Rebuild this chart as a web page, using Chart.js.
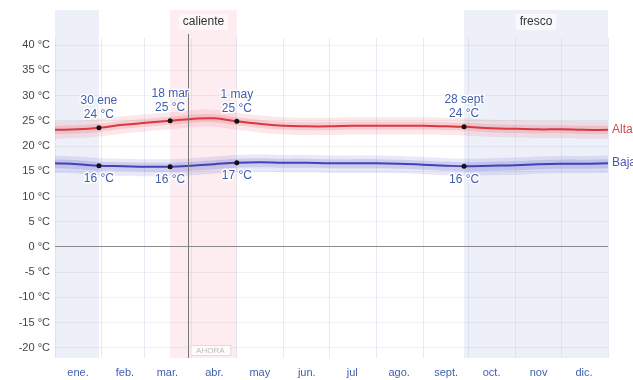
<!DOCTYPE html>
<html>
<head>
<meta charset="utf-8">
<script src="https://cdn.jsdelivr.net/npm/chart.js@4"></script>
<style>
  html, body { margin: 0; padding: 0; background: #fff; }
  #wrap { width: 633px; height: 380px; }
</style>
</head>
<body>
<div id="wrap"><canvas id="chart" width="633" height="380"></canvas></div>
<script>
// day of year (0 = 1 ene)
const days = [0,15,29,45,60,76,90,105,120,135,151,166,181,196,212,227,243,258,270,288,304,319,334,349,365];

// average daily high / low, with 25-75 and 10-90 bands
const high      = [23.2,23.3,23.6,24.2,24.6,25.0,25.35,25.5,24.9,24.4,24.0,23.9,23.9,24.0,24.0,24.0,24.0,23.9,23.8,23.5,23.4,23.3,23.3,23.2,23.2];
const highOutTop= [24.9,25.0,25.3,25.9,26.3,26.7,27.1,27.2,26.6,26.1,25.7,25.6,25.6,25.7,25.7,25.7,25.7,25.6,25.5,25.2,25.1,25.0,25.0,24.9,24.9];
const highOutBot= [21.5,21.6,21.9,22.5,22.9,23.3,23.7,23.8,23.2,22.7,22.3,22.2,22.2,22.3,22.3,22.3,22.3,22.2,22.1,21.8,21.7,21.6,21.6,21.5,21.5];
const highInTop = [24.0,24.1,24.4,25.0,25.4,25.8,26.2,26.3,25.7,25.2,24.8,24.7,24.7,24.8,24.8,24.8,24.8,24.7,24.6,24.3,24.2,24.1,24.1,24.0,24.0];
const highInBot = [22.4,22.5,22.8,23.4,23.8,24.2,24.6,24.7,24.1,23.6,23.2,23.1,23.1,23.2,23.2,23.2,23.2,23.1,23.0,22.7,22.6,22.5,22.5,22.4,22.4];

const low       = [16.6,16.4,16.1,16.0,15.9,15.9,16.1,16.4,16.7,16.8,16.7,16.7,16.6,16.6,16.6,16.5,16.3,16.1,16.0,16.1,16.2,16.4,16.5,16.5,16.6];
const lowOutTop = [18.1,17.9,17.6,17.5,17.4,17.4,17.6,17.9,18.2,18.3,18.2,18.2,18.1,18.1,18.1,18.0,17.8,17.6,17.5,17.6,17.7,17.9,18.0,18.0,18.1];
const lowOutBot = [14.7,14.5,14.2,14.1,14.0,14.0,14.2,14.5,14.8,14.9,14.8,14.8,14.7,14.7,14.7,14.6,14.4,14.2,14.1,14.2,14.3,14.5,14.6,14.6,14.7];
const lowInTop  = [17.4,17.2,16.9,16.8,16.7,16.7,16.9,17.2,17.5,17.6,17.5,17.5,17.4,17.4,17.4,17.3,17.1,16.9,16.8,16.9,17.0,17.2,17.3,17.3,17.4];
const lowInBot  = [15.6,15.4,15.1,15.0,14.9,14.9,15.1,15.4,15.7,15.8,15.7,15.7,15.6,15.6,15.6,15.5,15.3,15.1,15.0,15.1,15.2,15.4,15.5,15.5,15.6];

// marked season boundaries
const markDays  = [29, 76, 120, 270];
const markDates = ["30 ene", "18 mar", "1 may", "28 sept"];
const markHigh  = [23.6, 25.0, 24.9, 23.8];
const markLow   = [16.1, 15.9, 16.7, 16.0];

// seasons
const seasons = [
  { name: "caliente", from: 76, to: 120, color: "#fdedf0", label: true },
  { name: "fresco", from: 270, to: 365, color: "#eef0f9", label: true },
  { name: "fresco", from: 0, to: 29, color: "#eef0f9", label: false }
];
const nowDay = 88;

// axes
const monthStarts = [0,31,59,90,120,151,181,212,243,273,304,334,365];
const monthNames  = ["ene.","feb.","mar.","abr.","may","jun.","jul","ago.","sept.","oct.","nov","dic."];
const yTicks = [-20,-15,-10,-5,0,5,10,15,20,25,30,35,40];

const pts = arr => days.map((d, i) => ({ x: d, y: arr[i] }));

function band(arr, color, fill) {
  return { data: pts(arr), borderWidth: 0, pointRadius: 0, backgroundColor: color, fill: fill, tension: 0.4, order: 3 };
}

const seasonPlugin = {
  id: "seasons",
  beforeDraw(chart) {
    const { ctx, chartArea, scales } = chart;
    ctx.save();
    seasons.forEach(s => {
      const x1 = scales.x.getPixelForValue(s.from);
      const x2 = scales.x.getPixelForValue(s.to);
      ctx.fillStyle = s.color;
      ctx.fillRect(x1, 10, x2 - x1, chartArea.bottom - 10);
    });
    ctx.restore();
  },
  afterDatasetsDraw(chart) {
    const { ctx, chartArea, scales } = chart;
    const x = scales.x, y = scales.y;
    ctx.save();

    // season names
    ctx.font = "12px 'Liberation Sans', Arial, sans-serif";
    ctx.textAlign = "center";
    ctx.textBaseline = "middle";
    seasons.filter(s => s.label).forEach(s => {
      const cx = x.getPixelForValue((s.from + s.to) / 2);
      const w = ctx.measureText(s.name).width + 8;
      ctx.fillStyle = "rgba(255,255,255,0.6)";
      ctx.fillRect(cx - w / 2, 14, w, 16);
      ctx.fillStyle = "#333";
      ctx.fillText(s.name, cx, 22);
    });

    // now line
    const nx = x.getPixelForValue(nowDay);
    ctx.strokeStyle = "#777";
    ctx.lineWidth = 1;
    ctx.beginPath();
    ctx.moveTo(Math.round(nx) + 0.5, 34);
    ctx.lineTo(Math.round(nx) + 0.5, chartArea.bottom);
    ctx.stroke();
    ctx.fillStyle = "rgba(255,255,255,0.8)";
    ctx.fillRect(nx + 2, chartArea.bottom - 13, 40, 11);
    ctx.strokeStyle = "#ddd";
    ctx.strokeRect(nx + 2.5, chartArea.bottom - 12.5, 40, 10);
    ctx.fillStyle = "#bbb";
    ctx.font = "8px 'Liberation Sans', Arial, sans-serif";
    ctx.fillText("AHORA", nx + 22, chartArea.bottom - 7);

    // marker labels
    ctx.font = "12px 'Liberation Sans', Arial, sans-serif";
    ctx.lineJoin = "round";
    const txt = (t, px, py) => {
      ctx.strokeStyle = "rgba(255,255,255,0.9)";
      ctx.lineWidth = 3;
      ctx.strokeText(t, px, py);
      ctx.fillStyle = "#3f5fae";
      ctx.fillText(t, px, py);
    };
    markDays.forEach((d, i) => {
      const px = x.getPixelForValue(d);
      const hy = y.getPixelForValue(markHigh[i]);
      const ly = y.getPixelForValue(markLow[i]);
      txt(markDates[i], px, hy - 27);
      txt(Math.round(markHigh[i]) + " °C", px, hy - 13);
      txt(Math.round(markLow[i]) + " °C", px, ly + 13);
    });

    // series names at right edge
    ctx.textAlign = "left";
    ctx.fillStyle = "#d8454b";
    ctx.fillText("Alta", chartArea.right + 4, y.getPixelForValue(high[high.length - 1]));
    ctx.fillStyle = "#4d55b8";
    ctx.fillText("Baja", chartArea.right + 4, y.getPixelForValue(low[low.length - 1]));
    ctx.restore();
  }
};

new Chart(document.getElementById("chart"), {
  type: "line",
  data: {
    datasets: [
      band(highOutTop, "rgba(232,90,105,0.14)", "+1"),
      band(highOutBot, "transparent", false),
      band(highInTop, "rgba(232,90,105,0.2)", "+1"),
      band(highInBot, "transparent", false),
      band(lowOutTop, "rgba(95,95,205,0.14)", "+1"),
      band(lowOutBot, "transparent", false),
      band(lowInTop, "rgba(95,95,205,0.2)", "+1"),
      band(lowInBot, "transparent", false),
      { data: pts(high), borderColor: "#d8383f", borderWidth: 2, pointRadius: 0, fill: false, tension: 0.4, order: 2 },
      { data: pts(low), borderColor: "#3f43b3", borderWidth: 2, pointRadius: 0, fill: false, tension: 0.4, order: 2 },
      { data: markDays.map((d, i) => ({ x: d, y: markHigh[i] })), showLine: false, pointRadius: 2.5, pointBackgroundColor: "#111", pointBorderWidth: 0, order: 1 },
      { data: markDays.map((d, i) => ({ x: d, y: markLow[i] })), showLine: false, pointRadius: 2.5, pointBackgroundColor: "#111", pointBorderWidth: 0, order: 1 }
    ]
  },
  options: {
    responsive: false,
    animation: false,
    layout: { padding: { top: 38, right: 25, left: 0, bottom: 0 } },
    plugins: { legend: { display: false }, tooltip: { enabled: false } },
    scales: {
      x: {
        type: "linear",
        min: 0,
        max: 365,
        afterBuildTicks: s => { s.ticks = monthStarts.map(v => ({ value: v })); },
        afterFit: s => { s.height = 22; },
        border: { display: false },
        grid: { color: "rgba(200,210,235,0.45)", drawTicks: false },
        ticks: {
          padding: 8,
          labelOffset: 23,
          color: "#3f5fae",
          font: { size: 11, family: "'Liberation Sans', Arial, sans-serif" },
          callback: v => monthNames[monthStarts.indexOf(v)] || ""
        }
      },
      y: {
        min: -22,
        max: 41.4,
        afterBuildTicks: s => { s.ticks = yTicks.map(v => ({ value: v })); },
        afterFit: s => { s.width = 55; },
        border: { display: false },
        grid: {
          drawTicks: false,
          color: c => c.tick && c.tick.value === 0 ? "#8a8a8a" : "rgba(0,0,0,0.05)"
        },
        ticks: {
          padding: 5,
          color: "#444",
          font: { size: 11, family: "'Liberation Sans', Arial, sans-serif" },
          callback: v => v + " °C"
        }
      }
    }
  },
  plugins: [seasonPlugin]
});
</script>
</body>
</html>
